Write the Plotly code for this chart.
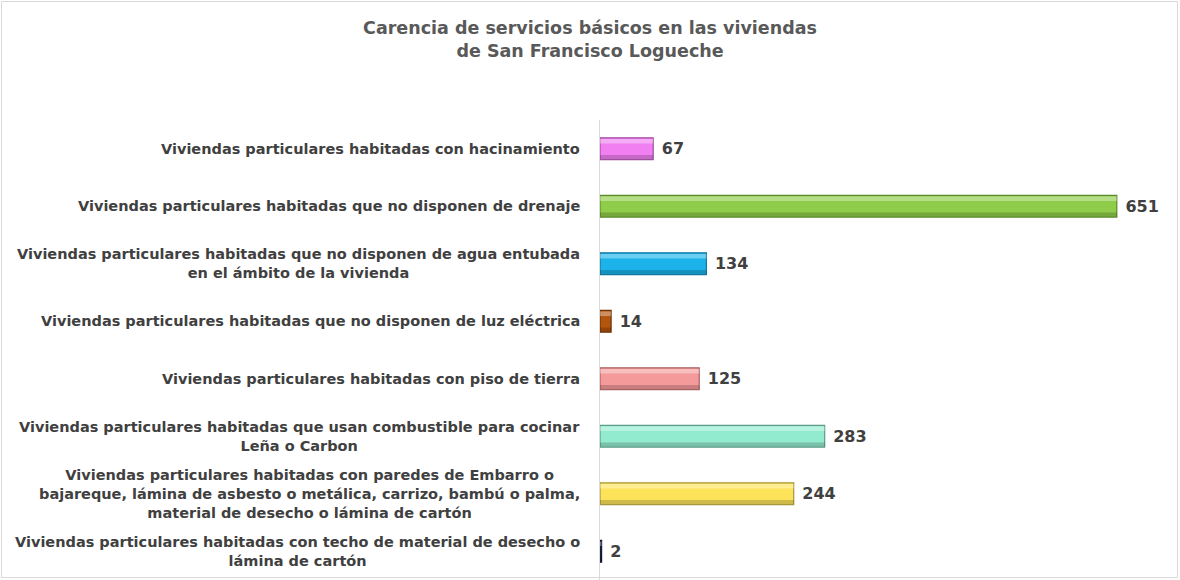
import plotly.graph_objects as go

categories = [
    "Viviendas particulares habitadas con hacinamiento",
    "Viviendas particulares habitadas que no disponen de drenaje",
    "Viviendas particulares habitadas que no disponen de agua entubada<br>en el ámbito de la vivienda",
    "Viviendas particulares habitadas que no disponen de luz eléctrica",
    "Viviendas particulares habitadas con piso de tierra",
    "Viviendas particulares habitadas que usan combustible para cocinar<br>Leña o Carbon",
    "Viviendas particulares habitadas con paredes de Embarro o<br>bajareque, lámina de asbesto o metálica, carrizo, bambú o palma,<br>material de desecho o lámina de cartón",
    "Viviendas particulares habitadas con techo de material de desecho o<br>lámina de cartón",
]
values = [67, 651, 134, 14, 125, 283, 244, 2]
colors = ["#F27FF2", "#8FCC4A", "#1BB3EA", "#B4550E", "#F49A9A", "#93EBCF", "#FDE35A", "#1F3260"]
edge_colors = ["#9E4E9E", "#5E8A2E", "#12789E", "#6E3408", "#A86262", "#5E9C88", "#A8963A", "#10182E"]

ids = list(range(len(categories)))

fig = go.Figure()
fig.add_trace(go.Bar(
    y=ids, x=values, orientation="h", width=0.38,
    marker=dict(color=colors, line=dict(color=edge_colors, width=1.2)),
    text=values, texttemplate=" %{x}", textposition="outside",
    textfont=dict(family="DejaVu Sans", size=16, color="#404040", weight="bold"),
    cliponaxis=False, hoverinfo="skip", showlegend=False,
))
# highlight strip (upper bevel)
fig.add_trace(go.Bar(
    y=ids, x=values, orientation="h", width=0.08, offset=-0.17,
    marker=dict(color="rgba(255,255,255,0.35)", line=dict(width=0)),
    hoverinfo="skip", showlegend=False,
))
# shadow strip (lower bevel)
fig.add_trace(go.Bar(
    y=ids, x=values, orientation="h", width=0.07, offset=0.11,
    marker=dict(color="rgba(0,0,0,0.18)", line=dict(width=0)),
    hoverinfo="skip", showlegend=False,
))

for i, c in enumerate(categories):
    fig.add_annotation(
        x=0, xref="paper", y=i, yref="y", text=c, showarrow=False,
        xanchor="right", yanchor="middle", align="center", xshift=-18,
        font=dict(family="DejaVu Sans", size=14.5, color="#404040", weight="bold"),
    )

L, R, T, B, W, H = 600, 10, 120, 0, 1180, 580
pw, ph = W - L - R, H - T - B
fig.add_shape(type="rect", xref="paper", yref="paper",
              x0=(1.5 - L) / pw, x1=(W - 2.5 - L) / pw,
              y0=(2.5 - B) / ph, y1=(H - B - 1.5) / ph,
              line=dict(color="#D9D9D9", width=1), layer="below")

fig.update_layout(
    width=W, height=H,
    margin=dict(l=L, r=R, t=T, b=B),
    paper_bgcolor="white", plot_bgcolor="white",
    barmode="overlay",
    title=dict(
        text="Carencia de servicios básicos en las viviendas<br>de San Francisco Logueche",
        x=0.5, xref="container", xanchor="center",
        y=1 - 34 / H, yref="container", yanchor="middle",
        font=dict(family="DejaVu Sans", size=17.5, color="#595959", weight="bold"),
    ),
    xaxis=dict(range=[0, 718], visible=False, showgrid=False, zeroline=False),
    yaxis=dict(autorange="reversed", showticklabels=False, showgrid=False, zeroline=False,
               showline=True, linecolor="#D9D9D9", linewidth=1, ticks=""),
    font=dict(family="DejaVu Sans"),
)

fig.write_html("out.html", config={"displayModeBar": False},
               post_script="document.body.style.margin='0';")
